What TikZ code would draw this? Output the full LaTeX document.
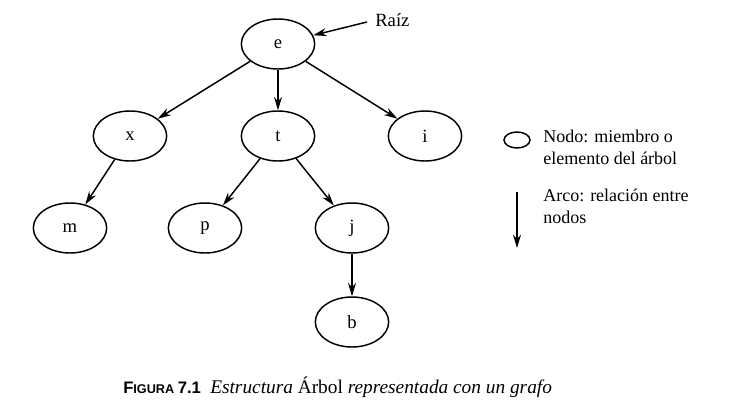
\documentclass[tikz,border=0pt]{standalone}
\usepackage{fontspec}
\setmainfont{Liberation Serif}
\newfontfamily\capsans{Liberation Sans}
\usetikzlibrary{shapes.geometric,arrows.meta}
\begin{document}
\begin{tikzpicture}[x=0.75pt,y=-0.75pt,
  tnode/.style={draw,ellipse,line width=1.1pt,minimum width=55pt,minimum height=37.5pt,inner sep=0pt,font=\fontsize{14}{16}\selectfont},
  arc/.style={line width=1.1pt,-{Stealth[length=10pt,width=6pt]}},
  lbl/.style={font=\fontsize{13.5}{16}\selectfont,inner sep=0pt}]
\useasboundingbox (0,0) rectangle (729,418);
\node[tnode] (e) at (278,44) {e};
\node[tnode] (x) at (130,136) {x};
\node[tnode] (t) at (278,136) {t};
\node[tnode] (i) at (425,136) {i};
\node[tnode] (m) at (70,228) {m};
\node[tnode] (p) at (205,228) {p};
\node[tnode] (j) at (352,228) {j};
\node[tnode] (b) at (352,322) {b};
\draw[arc] (e) -- (x);
\draw[arc] (e) -- (t);
\draw[arc] (e) -- (i);
\draw[arc] (x) -- (m);
\draw[arc] (t) -- (p);
\draw[arc] (t) -- (j);
\draw[arc] (j) -- (b);
% Raiz
\node[lbl,anchor=west,font=\fontsize{14}{16}\selectfont] (raiz) at (375,20) {Raíz};
\coordinate (rstart) at (367,22);
\draw[arc] (rstart) -- (e);
% legend
\node[draw,ellipse,line width=1.1pt,minimum width=19.5pt,minimum height=12pt,inner sep=0pt] (leg) at (517,140) {};
\node[lbl,anchor=north west,align=left] (legt1) at (543,130) {Nodo: miembro o\\elemento del árbol};
\coordinate (la1) at (517,192);
\coordinate (la2) at (517,248);
\draw[arc] (la1) -- (la2);
\node[lbl,anchor=north west,align=left] (legt2) at (543,189) {Arco: relación entre\\nodos};
% caption
\node[inner sep=0pt,anchor=west] (cap) at (123,387) {{\capsans\bfseries\fontsize{12.5}{14}\selectfont F\fontsize{9.5}{12}\selectfont IGURA \fontsize{12.5}{14}\selectfont 7.1}\hspace{7pt}{\fontsize{14.5}{16}\selectfont\itshape Estructura \upshape Árbol \itshape representada con un grafo}};
\end{tikzpicture}
\end{document}
